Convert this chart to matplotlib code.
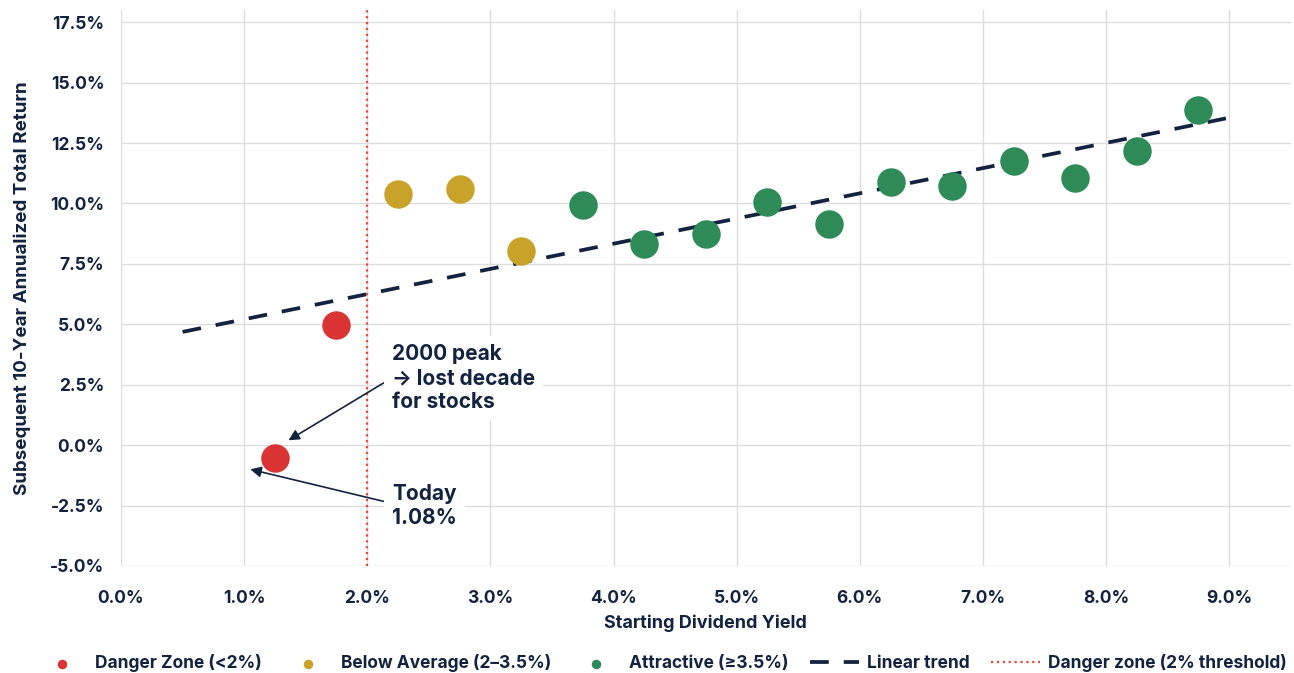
import numpy as np
import matplotlib.pyplot as plt
from matplotlib.ticker import FuncFormatter

plt.rcParams['font.family'] = ['Inter', 'DejaVu Sans']

# Starting dividend yield (%) and subsequent 10-year return (%)
danger_x = [1.75, 1.25]
danger_y = [4.97, -0.53]
below_x = [2.25, 2.75, 3.25]
below_y = [10.38, 10.59, 8.03]
attr_x = [3.75, 4.25, 4.75, 5.25, 5.75, 6.25, 6.75, 7.25, 7.75, 8.25, 8.75]
attr_y = [9.93, 8.32, 8.73, 10.05, 9.14, 10.88, 10.72, 11.75, 11.05, 12.16, 13.86]

navy = '#13233f'
red = '#d93333'
gold = '#c9a22a'
green = '#2e8b57'

fig = plt.figure(figsize=(12.94, 6.73), dpi=100)
ax = fig.add_axes([0.0935, 0.159, 0.904, 0.826])

ax.scatter(danger_x, danger_y, s=380, color=red, zorder=3, label='Danger Zone (<2%)')
ax.scatter(below_x, below_y, s=380, color=gold, zorder=3, label='Below Average (2\u20133.5%)')
ax.scatter(attr_x, attr_y, s=380, color=green, zorder=3, label='Attractive (\u22653.5%)')

# linear trend fitted over all points
all_x = np.array(danger_x + below_x + attr_x)
all_y = np.array(danger_y + below_y + attr_y)
slope, icpt = np.polyfit(all_x, all_y, 1)
tx = np.array([0.5, 9.0])
ax.plot(tx, slope * tx + icpt, color=navy, lw=2.7, dashes=(5, 4), zorder=2, label='Linear trend')

ax.axvline(2.0, color='#e8473a', lw=1.6, ls=':', zorder=2, label='Danger zone (2% threshold)')

ax.set_xlim(0, 9.5)
ax.set_ylim(-5, 18)
ax.set_xticks(np.arange(0, 9.01, 1.0))
ax.set_yticks(np.arange(-5, 17.51, 2.5))
ax.xaxis.set_major_formatter(FuncFormatter(lambda v, p: f'{v:.1f}%'))
ax.yaxis.set_major_formatter(FuncFormatter(lambda v, p: f'{v:.1f}%'))
ax.grid(True, color='#dddddd', lw=1)
ax.set_axisbelow(True)
for s in ax.spines.values():
    s.set_visible(False)
ax.tick_params(length=0, labelsize=12.5, labelcolor=navy)
ax.tick_params(axis='x', pad=17)
ax.tick_params(axis='y', pad=12)
for lab in ax.get_xticklabels() + ax.get_yticklabels():
    lab.set_fontweight('bold')

ax.set_xlabel('Starting Dividend Yield', fontsize=13, fontweight='bold', color=navy, labelpad=6)
ax.set_ylabel('Subsequent 10-Year Annualized Total Return', fontsize=13.5, fontweight='bold',
              color=navy, labelpad=14)

box = dict(boxstyle='square,pad=0.4', fc='white', ec='none')
ax.annotate('2000 peak\n\u2192 lost decade\nfor stocks', xy=(1.36, 0.2), xytext=(2.2, 2.78),
            fontsize=15, fontweight='bold', color=navy, va='center', ha='left', bbox=box,
            linespacing=1.25,
            arrowprops=dict(arrowstyle='-|>', color=navy, lw=1.2, mutation_scale=16,
                            shrinkA=0, shrinkB=0, relpos=(0, 0.5)), zorder=4)
ax.annotate('Today\n1.08%', xy=(1.05, -1.0), xytext=(2.2, -2.5),
            fontsize=15, fontweight='bold', color=navy, va='center', ha='left', bbox=box,
            linespacing=1.25,
            arrowprops=dict(arrowstyle='-|>', color=navy, lw=1.2, mutation_scale=16,
                            shrinkA=0, shrinkB=0, relpos=(0, 0.55)), zorder=4)

leg = fig.legend(loc='lower center', bbox_to_anchor=(0.512, -0.022), ncol=5, frameon=False,
                 fontsize=12.5, markerscale=0.3, handlelength=2.8, handletextpad=0.5,
                 columnspacing=1.22)
for t in leg.get_texts():
    t.set_color(navy)
    t.set_fontweight('bold')

fig.savefig('out.png', dpi=100)
